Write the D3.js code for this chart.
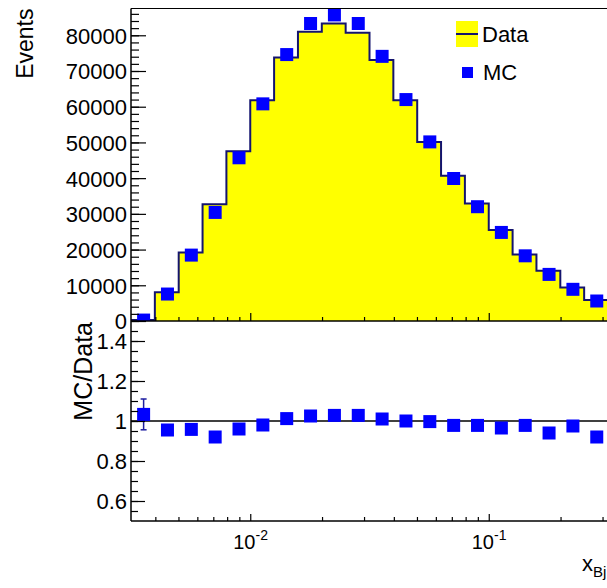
<!DOCTYPE html>
<html>
<head>
<meta charset="utf-8">
<script src="https://cdn.jsdelivr.net/npm/d3@7"></script>
<style>
body { margin: 0; background: #fff; }
text { font-family: "Liberation Sans", Arial, sans-serif; fill: #000; }
</style>
</head>
<body>
<div id="chart"></div>
<script>
//bin edges in x_Bj, 10 log bins per decade
var binEdges = [0.003162, 0.003981, 0.005012, 0.006310, 0.007943, 0.01,
  0.012589, 0.015849, 0.019953, 0.025119, 0.031623, 0.039811, 0.050119,
  0.063096, 0.079433, 0.1, 0.125893, 0.158489, 0.199526, 0.251189, 0.316228];

var dataCounts = [250, 8030, 19200, 32700, 47550, 61800, 73800, 81000, 83300, 80700,
  73100, 61800, 50150, 40650, 32900, 25450, 18650, 14050, 9400, 5870];

var mcCounts = [260, 7550, 18450, 30400, 45700, 60800, 74600, 83300, 85700, 83300,
  74100, 62000, 50150, 39900, 32000, 24800, 18250, 13050, 8870, 5600];

var ratio = [1.033, 0.955, 0.958, 0.92, 0.96, 0.98, 1.012, 1.025, 1.028, 1.028,
  1.01, 1.0, 0.997, 0.978, 0.978, 0.965, 0.978, 0.94, 0.975, 0.92];

var ratioErr = [0.077, 0.016, 0.010, 0.008, 0.007, 0.006, 0.005, 0.005, 0.005, 0.005,
  0.005, 0.006, 0.006, 0.007, 0.008, 0.009, 0.010, 0.012, 0.014, 0.018];

var eventTicks = [0, 10000, 20000, 30000, 40000, 50000, 60000, 70000, 80000];
var ratioTicks = [0.6, 0.8, 1, 1.2, 1.4];
var decadeTicks = [0.01, 0.1];
var decadeLabels = ["-2", "-1"];

//Width and height
var w = 607;
var h = 588;
var left = 131, right = 608;
var topY = 8.5, midY = 321, botY = 521;

var fillColor = "#ffff00";
var lineColor = "#14146e";
var mcColor = "#0000ff";

var svg = d3.select("#chart")
  .append("svg")
  .attr("width", w)
  .attr("height", h);

var x = d3.scaleLog()
  .domain([binEdges[0], binEdges[binEdges.length - 1]])
  .range([left, right]);

var y = d3.scaleLinear().domain([0, 87500]).range([midY, topY]);
var yr = d3.scaleLinear().domain([0.5, 1.5]).range([botY, midY]);

var bins = dataCounts.map(function(d, i) {
  return {
    lo: binEdges[i],
    hi: binEdges[i + 1],
    mid: (binEdges[i] + binEdges[i + 1]) / 2,
    data: d,
    mc: mcCounts[i],
    r: ratio[i],
    e: ratioErr[i]
  };
});

var defs = svg.append("defs");
defs.append("clipPath").attr("id", "clipTop")
  .append("rect").attr("x", left).attr("y", topY).attr("width", right - left).attr("height", midY - topY);
defs.append("clipPath").attr("id", "clipBot")
  .append("rect").attr("x", left).attr("y", midY).attr("width", right - left).attr("height", botY - midY);

//step outline points
var steps = [[binEdges[0], 0]];
bins.forEach(function(b) { steps.push([b.lo, b.data]); });
steps.push([binEdges[binEdges.length - 1], dataCounts[dataCounts.length - 1]]);
steps.push([binEdges[binEdges.length - 1], 0]);

var topPanel = svg.append("g").attr("clip-path", "url(#clipTop)");

topPanel.append("path")
  .datum(steps)
  .attr("fill", fillColor)
  .attr("d", d3.area()
    .x(function(d) { return x(d[0]); })
    .y0(y(0))
    .y1(function(d) { return y(d[1]); })
    .curve(d3.curveStepAfter));

topPanel.append("path")
  .datum(steps)
  .attr("fill", "none")
  .attr("stroke", lineColor)
  .attr("stroke-width", 2)
  .attr("d", d3.line()
    .x(function(d) { return x(d[0]); })
    .y(function(d) { return y(d[1]); })
    .curve(d3.curveStepAfter));

//top panel axes
function styleAxis(g) {
  g.selectAll("path, line").attr("stroke", "#000").attr("stroke-width", 1.2);
  g.selectAll("text").attr("font-family", "Liberation Sans, Arial, sans-serif").attr("fill", "#222");
}

var minorEvents = d3.range(0, 87000, 2000);

svg.append("g")
  .attr("transform", "translate(" + left + ",0)")
  .call(d3.axisLeft(y).tickValues(minorEvents).tickSize(-8).tickFormat("").tickSizeOuter(0))
  .call(function(g) { g.select(".domain").remove(); })
  .call(styleAxis);

svg.append("g")
  .attr("transform", "translate(" + left + ",0)")
  .call(d3.axisLeft(y).tickValues(eventTicks).tickSize(-15).tickPadding(4).tickSizeOuter(0).tickFormat(d3.format("d")))
  .call(function(g) {
    g.select(".domain").remove();
    g.selectAll("text").attr("font-size", "22px").attr("dy", "0.36em");
  })
  .call(styleAxis);

var xMinor = x.ticks().filter(function(d) { return decadeTicks.indexOf(d) < 0; });

svg.append("g")
  .attr("transform", "translate(0," + midY + ")")
  .call(d3.axisBottom(x).tickValues(xMinor).tickSize(-4).tickFormat("").tickSizeOuter(0))
  .call(function(g) { g.select(".domain").remove(); })
  .call(styleAxis);

svg.append("g")
  .attr("transform", "translate(0," + midY + ")")
  .call(d3.axisBottom(x).tickValues(decadeTicks).tickSize(-8).tickFormat("").tickSizeOuter(0))
  .call(function(g) { g.select(".domain").remove(); })
  .call(styleAxis);

//frame
svg.append("line").attr("x1", left).attr("x2", right).attr("y1", topY).attr("y2", topY)
  .attr("stroke", "#000").attr("stroke-width", 1.2);
svg.append("line").attr("x1", left).attr("x2", left).attr("y1", topY).attr("y2", botY)
  .attr("stroke", "#000").attr("stroke-width", 1.5);
svg.append("line").attr("x1", left).attr("x2", right).attr("y1", midY).attr("y2", midY)
  .attr("stroke", "#000").attr("stroke-width", 1.5);

//MC markers in the top panel
topPanel.selectAll("rect.mc")
  .data(bins)
  .enter()
  .append("rect")
  .attr("class", "mc")
  .attr("x", function(d) { return x(d.mid) - 6.5; })
  .attr("y", function(d) { return y(d.mc) - 6.5; })
  .attr("width", 13)
  .attr("height", 13)
  .attr("fill", mcColor);

//ratio panel
var botPanel = svg.append("g").attr("clip-path", "url(#clipBot)");

botPanel.append("line").attr("x1", left).attr("x2", right).attr("y1", yr(1)).attr("y2", yr(1))
  .attr("stroke", "#000").attr("stroke-width", 1.5);

var err = botPanel.selectAll("g.err")
  .data(bins.filter(function(d) { return d.e > 0.03; }))
  .enter()
  .append("g")
  .attr("stroke", "#1e1ea0")
  .attr("stroke-width", 1.5);

err.append("line")
  .attr("x1", function(d) { return x(d.mid); })
  .attr("x2", function(d) { return x(d.mid); })
  .attr("y1", function(d) { return yr(d.r - d.e); })
  .attr("y2", function(d) { return yr(d.r + d.e); });

err.selectAll("line.cap")
  .data(function(d) { return [d.r - d.e, d.r + d.e].map(function(v) { return { mid: d.mid, v: v }; }); })
  .enter()
  .append("line")
  .attr("class", "cap")
  .attr("x1", function(d) { return x(d.mid) - 3; })
  .attr("x2", function(d) { return x(d.mid) + 3; })
  .attr("y1", function(d) { return yr(d.v); })
  .attr("y2", function(d) { return yr(d.v); });

botPanel.selectAll("rect.ratio")
  .data(bins)
  .enter()
  .append("rect")
  .attr("class", "ratio")
  .attr("x", function(d) { return x(d.mid) - 6.5; })
  .attr("y", function(d) { return yr(d.r) - 6.5; })
  .attr("width", 13)
  .attr("height", 13)
  .attr("fill", mcColor);

var minorRatio = d3.range(0.55, 1.5, 0.05);

svg.append("g")
  .attr("transform", "translate(" + left + ",0)")
  .call(d3.axisLeft(yr).tickValues(minorRatio).tickSize(-7).tickFormat("").tickSizeOuter(0))
  .call(function(g) { g.select(".domain").remove(); })
  .call(styleAxis);

svg.append("g")
  .attr("transform", "translate(" + left + ",0)")
  .call(d3.axisLeft(yr).tickValues(ratioTicks).tickSize(-14).tickPadding(4).tickSizeOuter(0).tickFormat(d3.format("")))
  .call(function(g) {
    g.select(".domain").remove();
    g.selectAll("text").attr("font-size", "22px").attr("dy", "0.36em");
  })
  .call(styleAxis);

svg.append("g")
  .attr("transform", "translate(0," + botY + ")")
  .call(d3.axisBottom(x).tickValues(xMinor).tickSize(-4).tickFormat("").tickSizeOuter(0))
  .call(function(g) { g.select(".domain").remove(); })
  .call(styleAxis);

svg.append("g")
  .attr("transform", "translate(0," + botY + ")")
  .call(d3.axisBottom(x).tickValues(decadeTicks).tickSize(-7).tickFormat("").tickSizeOuter(0))
  .call(function(g) { g.select(".domain").remove(); })
  .call(styleAxis);

svg.append("line").attr("x1", left).attr("x2", right).attr("y1", botY).attr("y2", botY)
  .attr("stroke", "#000").attr("stroke-width", 1.5);

//decade labels 10^n
var dl = svg.selectAll("text.decade")
  .data(decadeTicks)
  .enter()
  .append("text")
  .attr("class", "decade")
  .attr("x", function(d) { return x(d) - 17; })
  .attr("y", 549)
  .attr("font-size", "20px")
  .attr("fill", "#222");

dl.append("tspan").text("10");
dl.append("tspan")
  .attr("font-size", "14px")
  .attr("dy", -9)
  .text(function(d, i) { return decadeLabels[i]; });

//axis titles
svg.append("text")
  .attr("transform", "translate(33," + topY + ") rotate(-90)")
  .attr("text-anchor", "end")
  .attr("font-size", "23px")
  .attr("fill", "#222")
  .text("Events");

svg.append("text")
  .attr("transform", "translate(92," + 322 + ") rotate(-90)")
  .attr("text-anchor", "end")
  .attr("font-size", "25px")
  .attr("fill", "#222")
  .text("MC/Data");

var xt = svg.append("text")
  .attr("x", 582)
  .attr("y", 571)
  .attr("font-size", "22px")
  .attr("fill", "#222");
xt.append("tspan").text("x");
xt.append("tspan").attr("font-size", "15px").attr("dy", 6).text("Bj");

//legend
var legend = svg.append("g");
legend.append("rect").attr("x", 456).attr("y", 21).attr("width", 22).attr("height", 26).attr("fill", fillColor);
legend.append("line").attr("x1", 456).attr("x2", 478).attr("y1", 34).attr("y2", 34)
  .attr("stroke", lineColor).attr("stroke-width", 2);
legend.append("text").attr("x", 482).attr("y", 42).attr("font-size", "22px").attr("fill", "#222").text("Data");
legend.append("rect").attr("x", 462).attr("y", 67).attr("width", 11).attr("height", 11).attr("fill", mcColor);
legend.append("text").attr("x", 483).attr("y", 80).attr("font-size", "22px").attr("fill", "#222").text("MC");
</script>
</body>
</html>
